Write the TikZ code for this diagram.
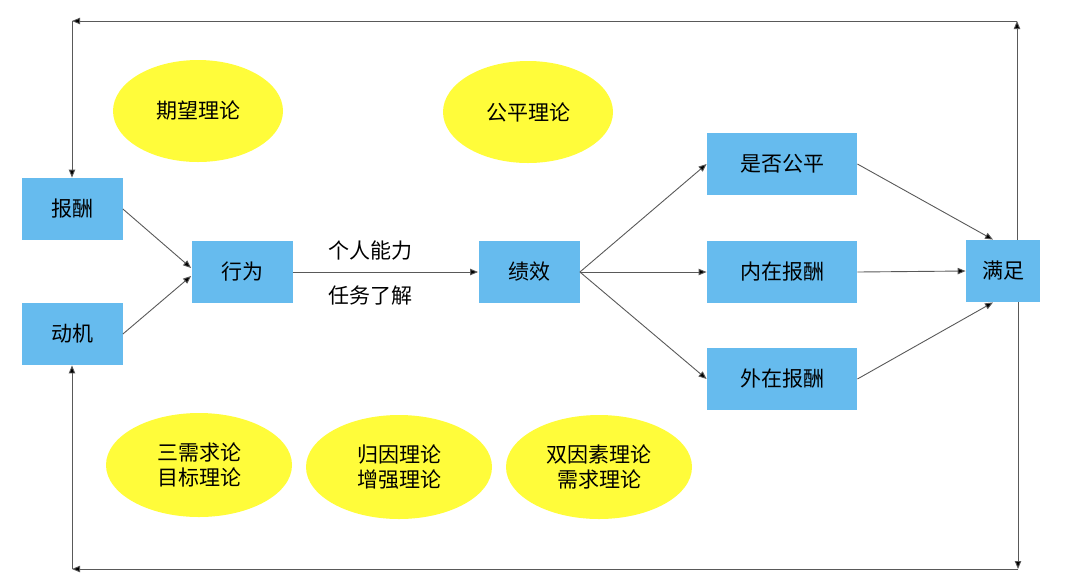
\documentclass[tikz,border=0pt]{standalone}
\usepackage{fontspec}
\setmainfont{Noto Sans CJK SC}
\usepackage{xcolor}
\usepackage{tikz}
\usetikzlibrary{arrows.meta,shapes.geometric}

\definecolor{boxblue}{RGB}{102,187,238}
\definecolor{theoryyellow}{RGB}{255,252,58}

\tikzset{
  box/.style={fill=boxblue,minimum width=50.5pt,minimum height=31pt,inner sep=0pt,
    font=\fontsize{10.5}{12.5}\selectfont},
  theory/.style={ellipse,fill=theoryyellow,minimum width=93pt,minimum height=52pt,inner sep=0pt,
    align=center,font=\fontsize{10.5}{12.5}\selectfont},
  flow/.style={draw=black!65,line width=0.45pt,-{Triangle[length=4pt,width=3.2pt,fill=black]}}
}

\begin{document}
\begin{tikzpicture}[x=0.5pt,y=-0.5pt]
        \useasboundingbox (0,0) rectangle (1080,585);
        % theories
        \node[theory,minimum width=85pt,minimum height=51pt] (qiwang) at (198,111) {期望理论};
        \node[theory,minimum width=85pt,minimum height=51pt] (gongping) at (528,112) {公平理论};
        \node[theory] (xuqiu) at (199,465) {三需求论\\目标理论};
        \node[theory] (guiyin) at (399,467) {归因理论\\增强理论};
        \node[theory] (shuangyin) at (599,467) {双因素理论\\需求理论};
        % boxes
        \node[box] (baochou) at (72,209) {报酬};
        \node[box] (dongji) at (72,334) {动机};
        \node[box] (xingwei) at (242,272) {行为};
        \node[box] (jixiao) at (529,272) {绩效};
        \node[box,minimum width=75pt] (gongping2) at (782,164) {是否公平};
        \node[box,minimum width=75pt] (neizai) at (782,272) {内在报酬};
        \node[box,minimum width=75pt] (waizai) at (782,379) {外在报酬};
        \node[box,minimum width=37pt] (manzu) at (1003,271) {满足};
        \node[font=\fontsize{10.5}{12.5}\selectfont] (nengli) at (370,251) {个人能力};
        \node[font=\fontsize{10.5}{12.5}\selectfont] (liaojie) at (370,296) {任务了解};
        % connectors
        \draw[flow] (baochou.east) -- ([yshift=2pt]xingwei.west);
        \draw[flow] (dongji.east) -- ([yshift=-2pt]xingwei.west);
        \draw[flow] (xingwei.east) -- (jixiao.west);
        \draw[flow] (jixiao.east) -- (gongping2.west);
        \draw[flow] (jixiao.east) -- (neizai.west);
        \draw[flow] (jixiao.east) -- (waizai.west);
        \draw[flow] (gongping2.east) -- ([xshift=-5pt]manzu.north);
        \draw[flow] (neizai.east) -- (manzu.west);
        \draw[flow] (waizai.east) -- ([xshift=-5pt]manzu.south);
        % feedback loops
        \coordinate (tr) at (1017,21);
        \coordinate (tl) at (72,21);
        \coordinate (br) at (1018,569);
        \coordinate (bl) at (72,569);
        \draw[flow] (tr |- manzu.north) -- (tr);
        \draw[flow] (tr) -- (tl);
        \draw[flow] (tl) -- (baochou.north);
        \draw[flow] (br |- manzu.south) -- (br);
        \draw[flow] (br) -- (bl);
        \draw[flow] (bl) -- (dongji.south);
    \end{tikzpicture}
\end{document}
